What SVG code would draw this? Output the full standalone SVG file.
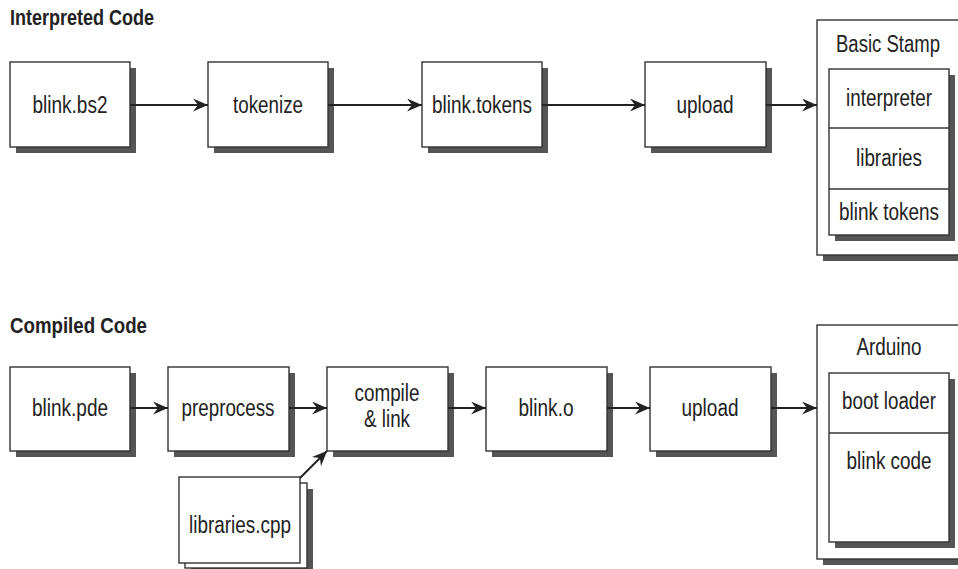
<svg xmlns="http://www.w3.org/2000/svg" width="958" height="569" viewBox="0 0 958 569">
<defs>
<marker id="ah" markerUnits="userSpaceOnUse" markerWidth="16" markerHeight="14" refX="15" refY="6.5" orient="auto">
<path d="M0,0 L15,6.5 L0,13 L5,6.5 Z" fill="#222"/>
</marker>
</defs>
<style>
.sh{fill:#555}
.bx{fill:#fff;stroke:#333;stroke-width:1.4}
.t{font-family:"Liberation Sans",Arial,sans-serif;font-size:23px;fill:#222;text-anchor:middle}
.h{font-family:"Liberation Sans",Arial,sans-serif;font-size:22px;font-weight:bold;fill:#222}
.c{stroke:#222;stroke-width:2;fill:none;marker-end:url(#ah)}
</style>
<rect width="958" height="569" fill="#fff"/>
<text class="h" x="10" y="25" textLength="144" lengthAdjust="spacingAndGlyphs">Interpreted Code</text>
<text class="h" x="10" y="333" textLength="137" lengthAdjust="spacingAndGlyphs">Compiled Code</text>

<g id="blink-bs2"><rect class="sh" x="16" y="68" width="120" height="85"/><rect class="bx" x="10" y="62" width="120" height="85"/><text class="t" x="70" y="113" textLength="75" lengthAdjust="spacingAndGlyphs">blink.bs2</text></g>
<g id="tokenize"><rect class="sh" x="214" y="68" width="120" height="85"/><rect class="bx" x="208" y="62" width="120" height="85"/><text class="t" x="268" y="113" textLength="70" lengthAdjust="spacingAndGlyphs">tokenize</text></g>
<g id="blink-tokens"><rect class="sh" x="428" y="68" width="120" height="85"/><rect class="bx" x="422" y="62" width="120" height="85"/><text class="t" x="482" y="113" textLength="100" lengthAdjust="spacingAndGlyphs">blink.tokens</text></g>
<g id="upload1"><rect class="sh" x="651" y="68" width="121" height="85"/><rect class="bx" x="645" y="62" width="121" height="85"/><text class="t" x="705" y="113" textLength="57" lengthAdjust="spacingAndGlyphs">upload</text></g>

<g id="basic-stamp">
<rect class="sh" x="823" y="26" width="150" height="235"/><rect class="bx" x="817" y="20" width="150" height="235"/>
<text class="t" x="888" y="52" textLength="104" lengthAdjust="spacingAndGlyphs">Basic Stamp</text>
<rect class="sh" x="835" y="75" width="120" height="166"/><rect class="bx" x="829" y="69" width="120" height="166"/>
<line x1="829" y1="128" x2="949" y2="128" stroke="#333" stroke-width="1.4"/>
<line x1="829" y1="189" x2="949" y2="189" stroke="#333" stroke-width="1.4"/>
<text class="t" x="889" y="106" textLength="86" lengthAdjust="spacingAndGlyphs">interpreter</text>
<text class="t" x="889" y="166" textLength="66" lengthAdjust="spacingAndGlyphs">libraries</text>
<text class="t" x="889" y="220" textLength="100" lengthAdjust="spacingAndGlyphs">blink tokens</text>
</g>

<g id="blink-pde"><rect class="sh" x="16" y="373" width="120" height="84"/><rect class="bx" x="10" y="367" width="120" height="84"/><text class="t" x="70" y="416" textLength="76" lengthAdjust="spacingAndGlyphs">blink.pde</text></g>
<g id="preprocess"><rect class="sh" x="174" y="373" width="121" height="84"/><rect class="bx" x="168" y="367" width="121" height="84"/><text class="t" x="228" y="416" textLength="93" lengthAdjust="spacingAndGlyphs">preprocess</text></g>
<g id="compile-link"><rect class="sh" x="333" y="373" width="121" height="84"/><rect class="bx" x="327" y="367" width="121" height="84"/><text class="t" x="387" y="401" textLength="65" lengthAdjust="spacingAndGlyphs">compile</text><text class="t" x="387" y="427" textLength="46" lengthAdjust="spacingAndGlyphs">&amp; link</text></g>
<g id="blink-o"><rect class="sh" x="492" y="373" width="121" height="84"/><rect class="bx" x="486" y="367" width="121" height="84"/><text class="t" x="546" y="416" textLength="55" lengthAdjust="spacingAndGlyphs">blink.o</text></g>
<g id="upload2"><rect class="sh" x="656" y="373" width="121" height="84"/><rect class="bx" x="650" y="367" width="121" height="84"/><text class="t" x="710" y="416" textLength="57" lengthAdjust="spacingAndGlyphs">upload</text></g>

<g id="libraries-cpp">
<rect class="sh" x="191" y="489" width="122" height="85"/>
<rect class="bx" x="185" y="483" width="122" height="85"/>
<rect class="bx" x="179" y="477" width="121" height="86"/>
<text class="t" x="240" y="533" textLength="102" lengthAdjust="spacingAndGlyphs">libraries.cpp</text>
</g>

<g id="arduino">
<rect class="sh" x="823" y="331" width="150" height="234"/><rect class="bx" x="817" y="325" width="150" height="234"/>
<text class="t" x="889" y="355" textLength="65" lengthAdjust="spacingAndGlyphs">Arduino</text>
<rect class="sh" x="835" y="379" width="120" height="169"/><rect class="bx" x="829" y="373" width="120" height="169"/>
<line x1="829" y1="433" x2="949" y2="433" stroke="#333" stroke-width="1.4"/>
<text class="t" x="889" y="409" textLength="94" lengthAdjust="spacingAndGlyphs">boot loader</text>
<text class="t" x="889" y="469" textLength="85" lengthAdjust="spacingAndGlyphs">blink code</text>
</g>

<g id="connectors">
<line class="c" x1="130" y1="105" x2="208" y2="105"/>
<line class="c" x1="328" y1="105" x2="422" y2="105"/>
<line class="c" x1="542" y1="105" x2="645" y2="105"/>
<line class="c" x1="766" y1="105" x2="817" y2="105"/>
<line class="c" x1="130" y1="408" x2="168" y2="408"/>
<line class="c" x1="289" y1="408" x2="327" y2="408"/>
<line class="c" x1="448" y1="408" x2="486" y2="408"/>
<line class="c" x1="607" y1="408" x2="650" y2="408"/>
<line class="c" x1="771" y1="408" x2="817" y2="408"/>
<line class="c" x1="300" y1="478" x2="327" y2="451"/>
</g>
</svg>
